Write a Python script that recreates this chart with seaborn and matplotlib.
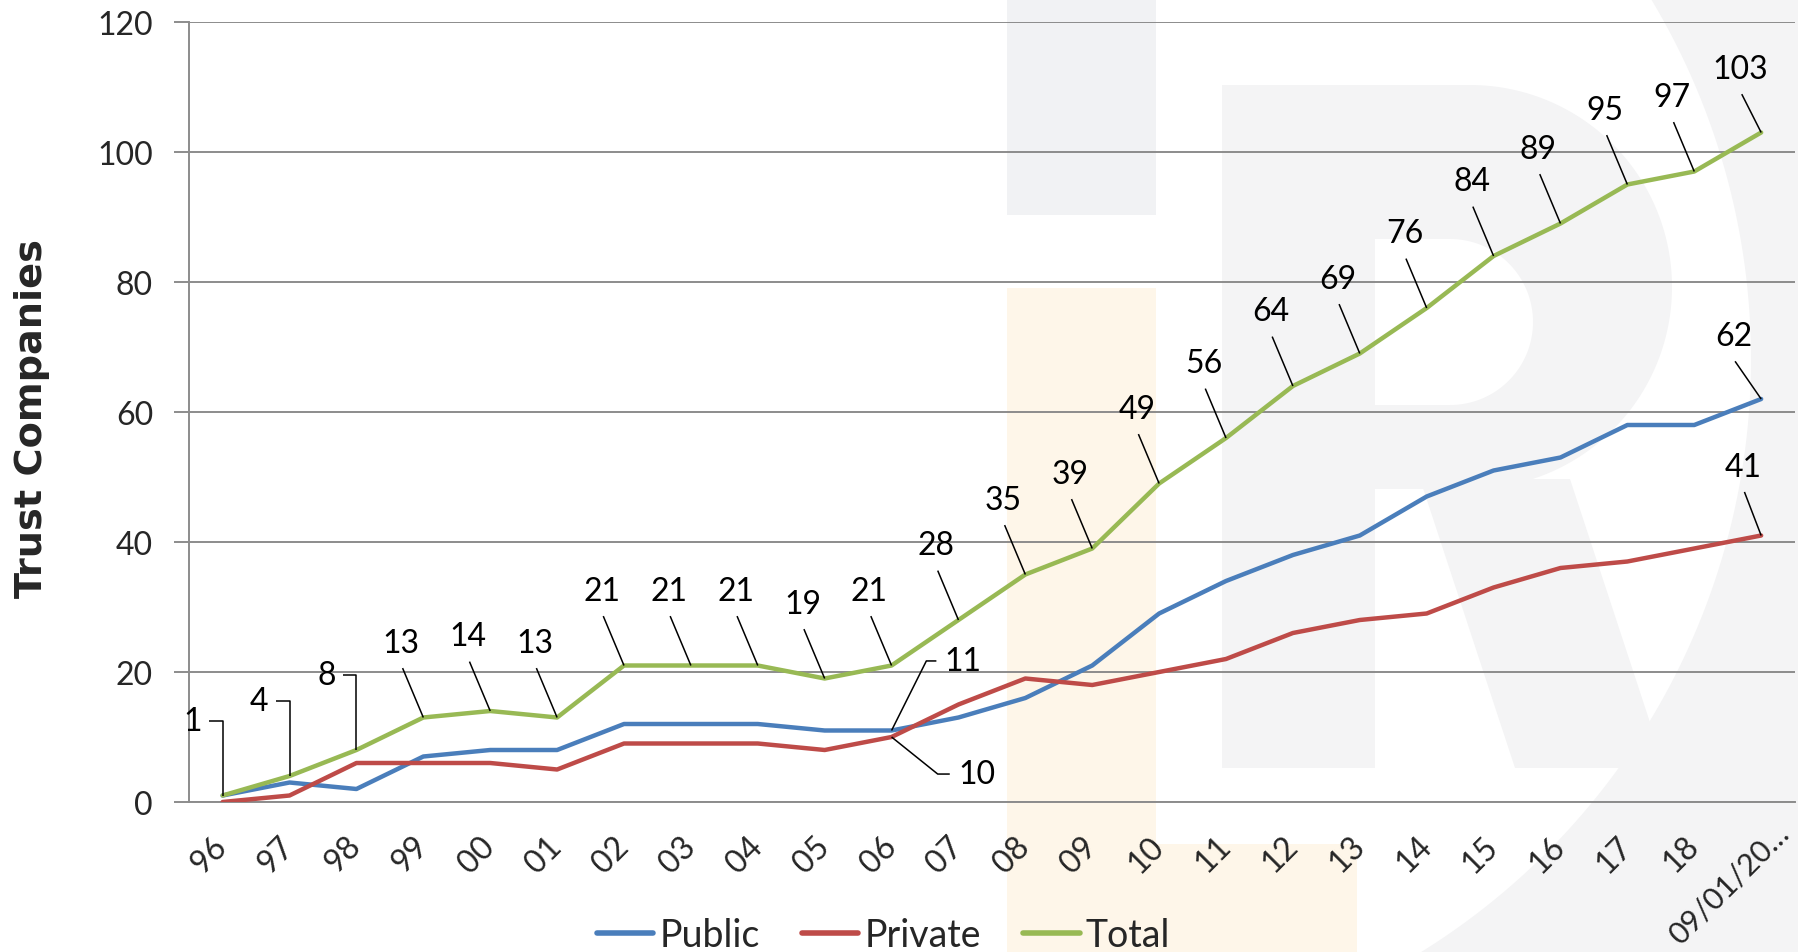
import numpy as np
import pandas as pd
import matplotlib
matplotlib.use("Agg")
import matplotlib.pyplot as plt
import seaborn as sns
from matplotlib.patches import Rectangle, Polygon

# ---------------- data ----------------
years = ["96", "97", "98", "99", "00", "01", "02", "03", "04", "05", "06", "07",
         "08", "09", "10", "11", "12", "13", "14", "15", "16", "17", "18", "09/01/20…"]
public = [1, 3, 2, 7, 8, 8, 12, 12, 12, 11, 11, 13, 16, 21, 29, 34, 38, 41, 47, 51, 53, 58, 58, 62]
private = [0, 1, 6, 6, 6, 5, 9, 9, 9, 8, 10, 15, 19, 18, 20, 22, 26, 28, 29, 33, 36, 37, 39, 41]
total = [1, 4, 8, 13, 14, 13, 21, 21, 21, 19, 21, 28, 35, 39, 49, 56, 64, 69, 76, 84, 89, 95, 97, 103]
series_names = ["Public", "Private", "Total"]
y_ticks = [0, 20, 40, 60, 80, 100, 120]
y_label = "Trust Companies"

# ---------------- style ----------------
colors = {"Public": "#4a7ebb", "Private": "#be4b48", "Total": "#98b954"}
grid_col = "#8c8c8c"

sns.set_theme(style="white")
plt.rcParams["font.family"] = ["Lato", "DejaVu Sans"]

W, H = 1798, 953
fig = plt.figure(figsize=(W / 100, H / 100), dpi=100)
fig.patch.set_facecolor("white")

# ---------------- watermark background (figure pixel space) ----------------
bg = fig.add_axes([0, 0, 1, 1], zorder=0)
bg.set_xlim(0, W)
bg.set_ylim(H, 0)
bg.axis("off")
gray1 = "#f1f2f4"
gray2 = "#f4f4f5"
orange = "#fef6e9"

def arc_pts(cx, cy, r, a0, a1, n=120):
    t = np.radians(np.linspace(a0, a1, n))
    return np.column_stack([cx + r * np.cos(t), cy + r * np.sin(t)])

# ring (right part of a large circle)
cx, cy, r_in, r_out = 1053, 360, 698, 1100
ring = np.vstack([arc_pts(cx, cy, r_out, -45, 75), arc_pts(cx, cy, r_in, 75, -45)])
bg.add_patch(Polygon(ring, closed=True, facecolor=gray2, edgecolor="none"))
# bars
bg.add_patch(Rectangle((1007, 0), 149, 216, facecolor=gray1, edgecolor="none"))
bg.add_patch(Rectangle((1007, 289), 149, 664, facecolor=orange, edgecolor="none"))
bg.add_patch(Rectangle((1007, 845), 350, 108, facecolor=orange, edgecolor="none"))
# R letter
bg.add_patch(Rectangle((1222, 86), 153, 683, facecolor=gray2, edgecolor="none"))
bowl = np.vstack([[[1375, 86]], arc_pts(1470, 288, 202, -90, 90), [[1375, 490]]])
bg.add_patch(Polygon(bowl, closed=True, facecolor=gray2, edgecolor="none"))
hole = np.vstack([[[1375, 240]], arc_pts(1450, 323, 83, -90, 90), [[1375, 406]]])
bg.add_patch(Polygon(hole, closed=True, facecolor="white", edgecolor="none"))
leg = np.array([[1420, 480], [1570, 480], [1665, 769], [1515, 769]])
bg.add_patch(Polygon(leg, closed=True, facecolor=gray2, edgecolor="none"))

# ---------------- main axes ----------------
ax = fig.add_axes([189.2 / W, 1 - 803 / H, (1794.6 - 189.2) / W, 780 / H], zorder=2)
ax.set_facecolor("none")

pos = list(range(len(years)))
df = pd.DataFrame({
    "pos": pos * 3,
    "value": public + private + total,
    "Series": ["Public"] * len(pos) + ["Private"] * len(pos) + ["Total"] * len(pos),
})
sns.lineplot(data=df, x="pos", y="value", hue="Series", hue_order=series_names,
             palette=colors, linewidth=3.2, sort=False, ax=ax, legend=True)
for ln in ax.lines:
    ln.set_solid_joinstyle("round")
    ln.set_solid_capstyle("round")
    ln.set_zorder(3)

ax.set_xlim(-0.5, len(years) - 0.5)
ax.set_ylim(0, 120)
ax.set_yticks(y_ticks)
ax.set_yticklabels([str(v) for v in y_ticks], fontsize=23)
ax.yaxis.grid(True, color=grid_col, linewidth=1.4)
ax.xaxis.grid(False)
ax.set_xlabel("")
ax.set_ylabel("")

ax.set_xticks(np.arange(-0.5, len(years), 1.0))
ax.set_xticklabels([])
ax.set_xticks(pos, minor=True)
# last category label is drawn separately (Excel shifts it)
ax.set_xticklabels(years[:-1] + [""], minor=True, rotation=45, ha="right", va="center",
                   rotation_mode="anchor", fontsize=23)
ax.annotate(years[-1], xy=(pos[-1], 0), xycoords="data",
            xytext=(16.5, -18.5), textcoords="offset points",
            rotation=45, ha="right", va="center", rotation_mode="anchor",
            fontsize=22, annotation_clip=False)
ax.tick_params(axis="x", which="major", length=11, width=1.4, color=grid_col, direction="out")
ax.tick_params(axis="x", which="minor", length=0, pad=28)
ax.tick_params(axis="y", which="major", length=11, width=1.4, color=grid_col,
               direction="out", pad=15, left=True)
for s in ["top", "right"]:
    ax.spines[s].set_visible(False)
for s in ["left", "bottom"]:
    ax.spines[s].set_color(grid_col)
    ax.spines[s].set_linewidth(1.4)

# ---------------- data labels with leader lines ----------------
lab_kw = dict(ha="center", va="center", fontsize=23, color="black", zorder=5)
lead_kw = dict(color="black", linewidth=1.1, zorder=4, solid_capstyle="butt")

for i, v in enumerate(total):
    if i <= 2:
        lx, ly = i - 0.45, v + 11.5
        ax.text(lx, ly, str(v), **lab_kw)
        ax.plot([lx + 0.25, i, i], [ly, ly, v], **lead_kw)
    else:
        if i == len(total) - 1:
            lx, ly = i - 0.31, v + 9.8
        else:
            lx, ly = i - 0.33, v + 11.5
        ax.text(lx, ly, str(v), **lab_kw)
        ax.plot([lx + 0.02, i], [ly - 3.9, v], **lead_kw)

# Public / Private labels at 06
k = 10
lx, ly = k + 1.06, public[k] + 10.7
ax.text(lx, ly, str(public[k]), **lab_kw)
ax.plot([lx - 0.39, lx - 0.54, k], [ly, ly, public[k]], **lead_kw)
lx, ly = k + 1.27, private[k] - 5.7
ax.text(lx, ly, str(private[k]), **lab_kw)
ax.plot([lx - 0.40, lx - 0.58, k], [ly, ly, private[k]], **lead_kw)

# Public / Private labels at last point
k = len(years) - 1
lx, ly = k - 0.41, public[k] + 9.7
ax.text(lx, ly, str(public[k]), **lab_kw)
ax.plot([lx + 0.02, k], [ly - 3.9, public[k]], **lead_kw)
lx, ly = k - 0.27, private[k] + 10.6
ax.text(lx, ly, str(private[k]), **lab_kw)
ax.plot([lx + 0.02, k], [ly - 3.9, private[k]], **lead_kw)

# ---------------- legend ----------------
handles, labels = ax.get_legend_handles_labels()
if ax.get_legend() is not None:
    ax.get_legend().remove()
for h in handles:
    h.set_linewidth(4.0)
    h.set_solid_capstyle("round")
fig.legend(handles, labels, loc="center", bbox_to_anchor=(0.4914, 0.0178), ncol=3,
           frameon=False, fontsize=27, handlelength=1.5, handletextpad=0.16,
           columnspacing=1.13)

# ---------------- y label ----------------
fig.text(32 / W, 1 - 419 / H, y_label, rotation=90, ha="center", va="center",
         fontsize=27.5, fontweight="bold", family=["DejaVu Sans"])

fig.savefig("out.png", dpi=100, facecolor="white")
